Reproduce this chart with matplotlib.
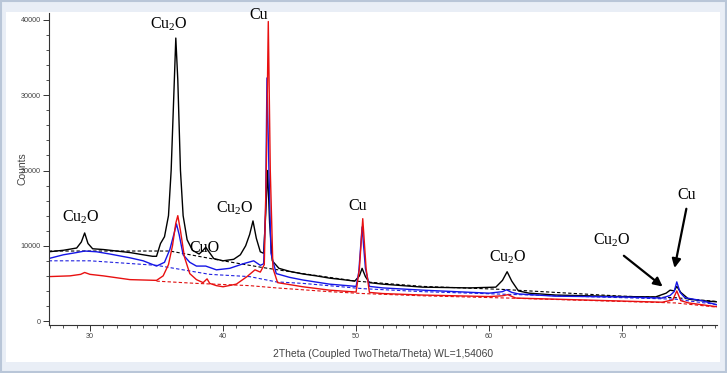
import matplotlib
matplotlib.use("Agg")
import matplotlib.pyplot as plt
from matplotlib.patches import Rectangle
from matplotlib.ticker import MultipleLocator

plt.rcParams['mathtext.fontset'] = 'custom'
plt.rcParams['mathtext.rm'] = 'Liberation Serif'

# black pattern
black_x = [26.9, 28.0, 29.0, 29.35, 29.6, 29.85, 30.2, 31.0, 32.0, 33.0, 34.0, 34.7, 35.0, 35.3,
           35.6, 35.9, 36.1, 36.3, 36.45, 36.6, 36.8, 37.0, 37.3, 37.7, 38.2, 38.5, 38.7, 38.9,
           39.3, 40.0, 40.8, 41.3, 41.7, 42.0, 42.25, 42.5, 42.8, 43.05, 43.2, 43.35, 43.5, 43.7,
           44.2, 45.0, 46.0, 47.0, 48.0, 49.0, 49.9, 50.25, 50.45, 50.7, 51.0, 52.0, 55.0, 58.5,
           60.5, 61.0, 61.35, 61.7, 62.2, 63.0, 65.0, 70.0, 72.5, 73.3, 73.6, 73.9, 74.1, 74.4,
           75.0, 76.0, 77.1]
black_y = [9200, 9400, 9700, 10500, 11700, 10300, 9600, 9500, 9300, 9100, 8800, 8600, 8600, 10300,
           11200, 14000, 20000, 30000, 37600, 32000, 20000, 14000, 10800, 9400, 8900, 9400, 9800, 9300,
           8300, 8000, 8200, 8800, 10000, 11500, 13300, 11000, 9200, 9000, 14000, 20000, 13000, 8000,
           7000, 6600, 6250, 6000, 5700, 5500, 5300, 6000, 7000, 5900, 5100, 4900, 4500, 4400,
           4500, 5400, 6550, 5300, 4000, 3700, 3450, 3250, 3200, 3700, 4100, 4000, 4600, 3800,
           2900, 2700, 2550]

# blue pattern
blue_x = [26.9, 28.0, 29.0, 29.6, 30.5, 31.5, 33.0, 34.0, 35.0, 35.6, 36.0, 36.3, 36.5, 36.7,
          37.0, 37.5, 38.0, 38.7, 39.5, 40.5, 41.5, 42.3, 42.8, 43.05, 43.2, 43.3, 43.45, 43.6,
          44.0, 45.0, 46.0, 48.0, 50.0, 50.2, 50.45, 50.7, 51.0, 52.0, 55.0, 60.0, 61.0, 61.3,
          61.7, 62.2, 65.0, 70.0, 73.0, 73.6, 73.9, 74.1, 74.35, 74.7, 76.0, 77.1]
blue_y = [8300, 8800, 9100, 9300, 9200, 8900, 8400, 8000, 7300, 7800, 9500, 11500, 12900, 11500,
          8800, 7800, 7300, 7300, 6800, 7000, 7600, 8000, 7400, 7600, 15000, 32300, 20000, 9000,
          6300, 5800, 5450, 4900, 4600, 6500, 12500, 7000, 4600, 4400, 4100, 3700, 3900, 4150,
          3800, 3600, 3300, 3200, 3050, 3400, 3900, 5200, 3800, 3100, 2700, 2150]

# red pattern
red_x = [26.9, 28.5, 29.3, 29.6, 30.0, 31.0, 33.0, 35.0, 35.5, 35.9, 36.2, 36.45, 36.6, 36.8,
         37.1, 37.5, 38.0, 38.5, 38.8, 39.0, 39.5, 40.0, 41.0, 41.8, 42.4, 42.8, 43.1, 43.25,
         43.4, 43.55, 43.75, 44.1, 46.0, 48.0, 50.0, 50.25, 50.5, 50.75, 51.0, 52.0, 55.0, 60.0,
         61.0, 61.4, 62.0, 65.0, 70.0, 73.0, 73.8, 74.1, 74.4, 75.0, 77.1]
red_y = [5900, 6000, 6200, 6450, 6200, 6000, 5500, 5400, 6000, 7500, 10000, 13000, 14000, 12000,
         8500, 6300, 5500, 5100, 5600, 5000, 4700, 4550, 4900, 5900, 6800, 6500, 7500, 20000,
         39800, 20000, 7000, 5100, 4550, 4100, 3850, 7000, 13600, 7000, 3800, 3650, 3450, 3250,
         3350, 3500, 3050, 2900, 2650, 2500, 2800, 4000, 2700, 2400, 1900]

# background lines
bg_black_x = [26.9, 33.0, 36.0, 40.0, 43.0, 46.0, 50.0, 55.0, 61.0, 70.0, 74.0, 77.1]
bg_black_y = [9300, 9300, 9300, 8000, 7100, 6300, 5300, 4600, 4200, 3300, 3100, 2600]
bg_blue_x = [26.9, 30.0, 35.0, 39.0, 42.0, 44.0, 46.0, 50.5, 55.0, 61.3, 70.0, 74.0, 77.1]
bg_blue_y = [8000, 8000, 7400, 6200, 5900, 5200, 5000, 4300, 3900, 3550, 3100, 2900, 2200]
bg_red_x = [35.0, 38.0, 42.0, 44.0, 48.0, 50.5, 55.0, 61.4, 70.0, 74.0, 77.1]
bg_red_y = [5300, 5000, 4700, 4400, 3900, 3650, 3350, 3050, 2600, 2400, 1850]

labels = [r'Cu$_\mathrm{2}$O', r'Cu$_\mathrm{2}$O', 'Cu', 'CuO', r'Cu$_\mathrm{2}$O', 'Cu', r'Cu$_\mathrm{2}$O']
label_x = [29.3, 35.93, 42.7, 38.63, 40.88, 50.13, 61.38]
label_y = [13860, 39470, 40670, 9660, 14980, 15280, 8550]

fig = plt.figure(figsize=(7.27, 3.73), dpi=100)
fig.patch.set_facecolor('#e9eef6')
fig.patches.append(Rectangle((0.001, 0.003), 0.997, 0.993, transform=fig.transFigure,
                             facecolor='none', edgecolor='#b9c6d8', lw=1.5, zorder=-2))
fig.patches.append(Rectangle((6 / 727, 1 - 362 / 373), 714 / 727, 350 / 373,
                             transform=fig.transFigure, facecolor='white', edgecolor='none',
                             zorder=-1))

ax = fig.add_axes([49 / 727, 1 - 325 / 373, 667.7 / 727, 312 / 373])
ax.set_facecolor('none')
ax.set_zorder(2)

ax.plot(bg_black_x, bg_black_y, color='black', lw=0.8, ls=(0, (3, 2)))
ax.plot(bg_blue_x, bg_blue_y, color='#2020e0', lw=0.8, ls=(0, (3, 2)))
ax.plot(bg_red_x, bg_red_y, color='#e01010', lw=0.8, ls=(0, (3, 2)))
ax.plot(black_x, black_y, color='black', lw=1.0)
ax.plot(blue_x, blue_y, color='#1515e6', lw=1.0)
ax.plot(red_x, red_y, color='#e81010', lw=1.0)

for t, x, y in zip(labels, label_x, label_y):
    ax.text(x, y, t, family='Liberation Serif', fontsize=11.5, ha='center', va='center')

ax.text(69.2, 10760, r'Cu$_\mathrm{2}$O', family='Liberation Serif', fontsize=11.5, ha='center', va='center')
ax.text(74.86, 16750, 'Cu', family='Liberation Serif', fontsize=11.5, ha='center', va='center')
ax.annotate('', xy=(73.2, 4350), xytext=(69.96, 8900),
            arrowprops=dict(arrowstyle='-|>', color='black', lw=1.6, mutation_scale=13))
ax.annotate('', xy=(73.89, 6690), xytext=(74.86, 15280),
            arrowprops=dict(arrowstyle='-|>', color='black', lw=1.6, mutation_scale=13))

ax.set_xlim(26.92, 77.1)
ax.set_ylim(-530, 40930)
ax.xaxis.set_major_locator(MultipleLocator(10))
ax.xaxis.set_minor_locator(MultipleLocator(1))
ax.yaxis.set_major_locator(MultipleLocator(10000))
ax.yaxis.set_minor_locator(MultipleLocator(2000))
for s in ['top', 'right']:
    ax.spines[s].set_visible(False)
for s in ['left', 'bottom']:
    ax.spines[s].set_color('#333333')
    ax.spines[s].set_linewidth(0.8)
ax.tick_params(which='major', length=4, width=0.7, color='#333333', labelsize=5.2,
               labelcolor='#444444', pad=2)
ax.tick_params(which='minor', length=2.2, width=0.6, color='#333333')
for lab in ax.get_xticklabels() + ax.get_yticklabels():
    lab.set_family('Liberation Sans')

ax.set_xlabel('2Theta (Coupled TwoTheta/Theta) WL=1,54060', family='Liberation Sans',
              fontsize=7.5, color='#444444', labelpad=6)
ax.set_ylabel('Counts', family='Liberation Sans', fontsize=7.5, color='#444444')
ax.yaxis.set_label_coords(-22 / 667.7, 0.5)

fig.savefig('out.png', dpi=100, facecolor=fig.get_facecolor())
